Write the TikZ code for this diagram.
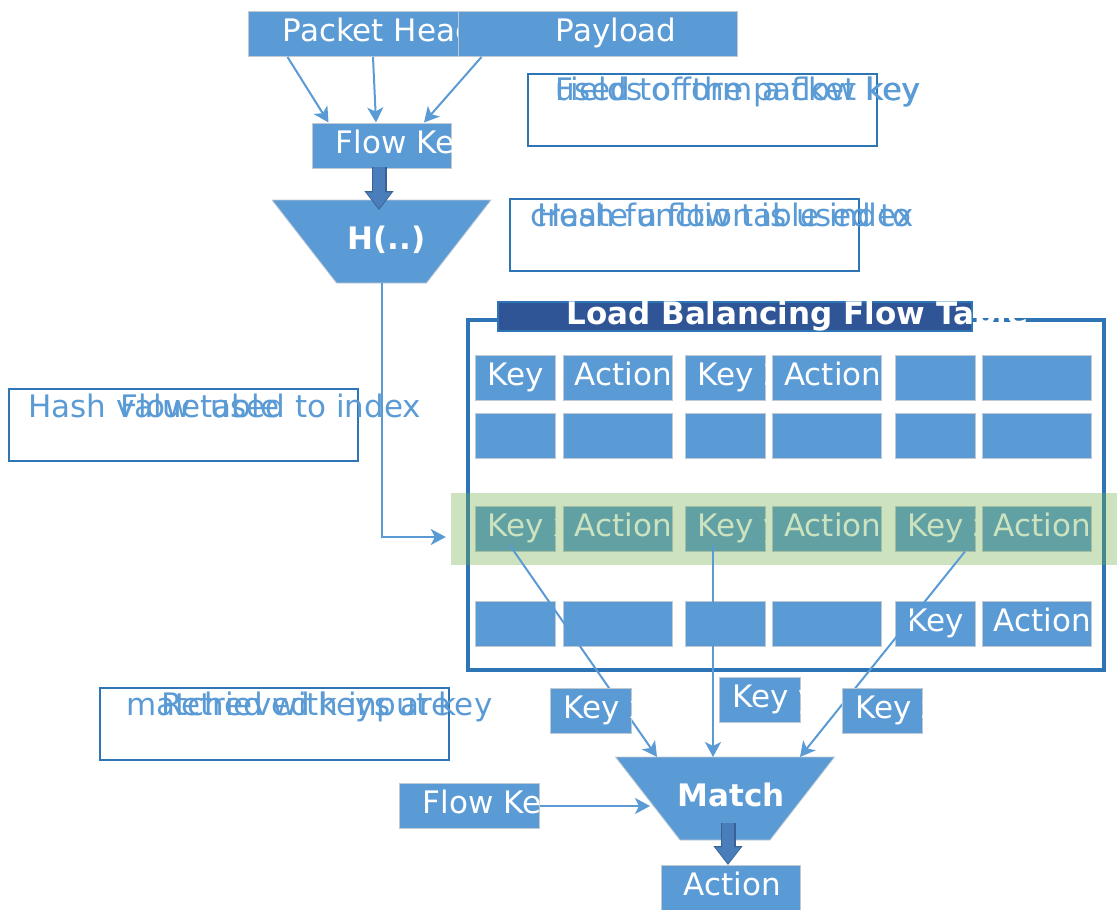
\documentclass[tikz,border=0pt]{standalone}
\usepackage{fontspec}
\setmainfont{DejaVu Sans}
\usetikzlibrary{
  arrows.meta,
  positioning,
  calc,
  shapes.geometric
}
\definecolor{BoxBlue}{RGB}{91,155,213}
\definecolor{EdgeGray}{RGB}{192,200,210}
\definecolor{FrameBlue}{RGB}{46,117,182}
\definecolor{TitleBlue}{RGB}{47,85,151}
\definecolor{BlockBlue}{RGB}{74,126,187}
\definecolor{BlockEdge}{RGB}{56,98,150}
\definecolor{BandGreen}{RGB}{112,173,71}
\newcommand\boxfont{\fontsize{31}{37}\selectfont}
\tikzset{
  cell/.style={draw=EdgeGray,line width=1pt,fill=BoxBlue,inner sep=0pt,minimum height=45pt},
  tag/.style={text=white,font=\boxfont,inner sep=0pt,anchor=west,text height=23pt,text depth=7.5pt},
  headtag/.style={tag,font=\boxfont\bfseries},
  funnel/.style={minimum width=220pt,minimum height=84pt,inner sep=0pt,text=white,font=\boxfont\bfseries,text height=23pt,text depth=7.5pt,
    path picture={\fill[BoxBlue,draw=EdgeGray,line width=.8pt]
      ([xshift=.5pt,yshift=-.5pt]path picture bounding box.north west) -- ([xshift=-.5pt,yshift=-.5pt]path picture bounding box.north east)
      -- ([xshift=-65pt,yshift=.5pt]path picture bounding box.south east) -- ([xshift=65pt,yshift=.5pt]path picture bounding box.south west) -- cycle;}},
  callout/.style={draw=FrameBlue,line width=2pt,minimum width=349pt,minimum height=72pt,inner sep=0pt},
  note/.style={text=BoxBlue,font=\boxfont,inner sep=0pt,anchor=base west},
  conn/.style={draw=BoxBlue,line width=2pt,-{Stealth[length=15pt,width=16pt,inset=4pt]}},
  blockarrow/.style={preaction={draw=BlockEdge,line width=15pt,shorten >=0pt,-{Triangle[length=19pt,width=28pt]}},draw=BlockBlue,line width=12pt,shorten >=1.6pt,-{Triangle[length=16pt,width=24pt]}}
}

\begin{document}
\begin{tikzpicture}[x=1pt,y=-1pt]
\useasboundingbox (0,0) rectangle (1117,910);

% packet and flow key
\node[cell,minimum width=210pt,label={[tag,xshift=35pt]west:Packet Header}] (ph) at (353,34) {};
\node[cell,minimum width=279pt,label={[tag,xshift=98pt]west:Payload}] (pl) at (597.5,34) {};
\node[cell,minimum width=139pt,label={[tag,xshift=24pt]west:Flow Key}] (fk) at (381.5,145.5) {};
\draw[conn] ([xshift=40pt]ph.south west) -- ([xshift=17pt]fk.north west);
\draw[conn] ([xshift=20pt]ph.south) -- ([xshift=-5.5pt]fk.north);
\draw[conn] ([xshift=24pt]pl.south west) -- ([xshift=42.5pt]fk.north);

\node[funnel] (hash) at (381.5,241.5) {\hspace*{10pt}H(..)};
\draw[blockarrow] ([xshift=-2.5pt,yshift=2pt]fk.south) -- ([xshift=-2.5pt,yshift=31.5pt]hash.center);

% callouts
\node[callout] (c1) at (702,109.5) {};
\node[note] (c1a) at (555,100) {Fields of the packet key};
\node[note] (c1b) at (555,100) {used to form a flow key};
\node[callout] (c2) at (684.5,235) {};
\node[note] (c2a) at (537,226) {Hash function is used to};
\node[note] (c2b) at (530,226) {create a flow table index};
\node[callout] (c3) at (183.5,425) {};
\node[note] (c3a) at (28,417) {Hash value used to index};
\node[note] (c3b) at (120,417) {Flow table};
\node[callout] (c4) at (274.5,724) {};
\node[note] (c4a) at (126,715) {matched with input key};
\node[note] (c4b) at (161,715) {Retrieved keys are};

% flow table
\node[draw=FrameBlue,line width=4pt,minimum width=636pt,minimum height=350pt,inner sep=0pt] (tbl) at (786,495) {};
\node[draw=FrameBlue,line width=1.5pt,fill=TitleBlue,minimum width=474pt,minimum height=29pt,inner sep=0pt,
  label={[headtag,xshift=69pt]west:Load Balancing Flow Table}] (ttl) at (735,316.5) {};
\foreach \r/\y/\c/\kt/\at in {1/377.5/1/Key 1/Action, 1/377.5/2/Key 2/Action, 1/377.5/3/{}/{},
    2/435.5/1/{}/{}, 2/435.5/2/{}/{}, 2/435.5/3/{}/{},
    3/528.5/1/Key x/Action, 3/528.5/2/Key y/Action, 3/528.5/3/Key z/Action,
    4/623.5/1/{}/{}, 4/623.5/2/{}/{}, 4/623.5/3/Key/Action}{
  \node[cell,minimum width=80pt,label={[tag,xshift=13pt]west:\kt}] (k-\r-\c) at ({515+210*(\c-1)},\y) {};
  \node[cell,minimum width=109pt,label={[tag,xshift=12pt]west:\at}] (a-\r-\c) at ({617.5+209.5*(\c-1)},\y) {};
}
\node[fill=BandGreen,fill opacity=.35,minimum width=666pt,minimum height=72pt,inner sep=0pt] (band) at (784,529) {};
\draw[conn] ([yshift=-41.5pt]hash.center) |- ([xshift=-5pt,yshift=-8pt]band.west);

% matching
\node[funnel] (match) at (725,798.5) {\hspace*{12pt}Match};
\draw[conn] ([xshift=-5pt,yshift=6pt]k-3-1.south) -- ([xshift=-68pt,yshift=41.5pt]match.center);
\draw[conn] ([xshift=-12pt,yshift=6pt]k-3-2.south) -- ([xshift=-12pt,yshift=41.5pt]match.center);
\draw[conn] ([xshift=30pt]k-3-3.south) -- ([xshift=75pt,yshift=41.5pt]match.center);
\node[cell,minimum width=81pt,label={[tag,xshift=14pt]west:Key x}] (kx) at (590.5,710.5) {};
\node[cell,minimum width=81pt,label={[tag,xshift=14pt]west:Key y}] (ky) at (759.5,699.5) {};
\node[cell,minimum width=80pt,label={[tag,xshift=14pt]west:Key z}] (kz) at (882,710.5) {};

\node[cell,minimum width=140pt,label={[tag,xshift=24pt]west:Flow Key}] (fk2) at (469,806) {};
\draw[conn] (fk2.east) -- ([xshift=-75pt,yshift=-7.5pt]match.center);
\node[cell,minimum width=139pt,label={[tag,xshift=23pt]west:Action}] (act) at (730.5,888) {};
\draw[blockarrow] ([xshift=3pt,yshift=-24.5pt]match.center) -- ([xshift=-2.5pt]act.north);
\end{tikzpicture}
\end{document}
